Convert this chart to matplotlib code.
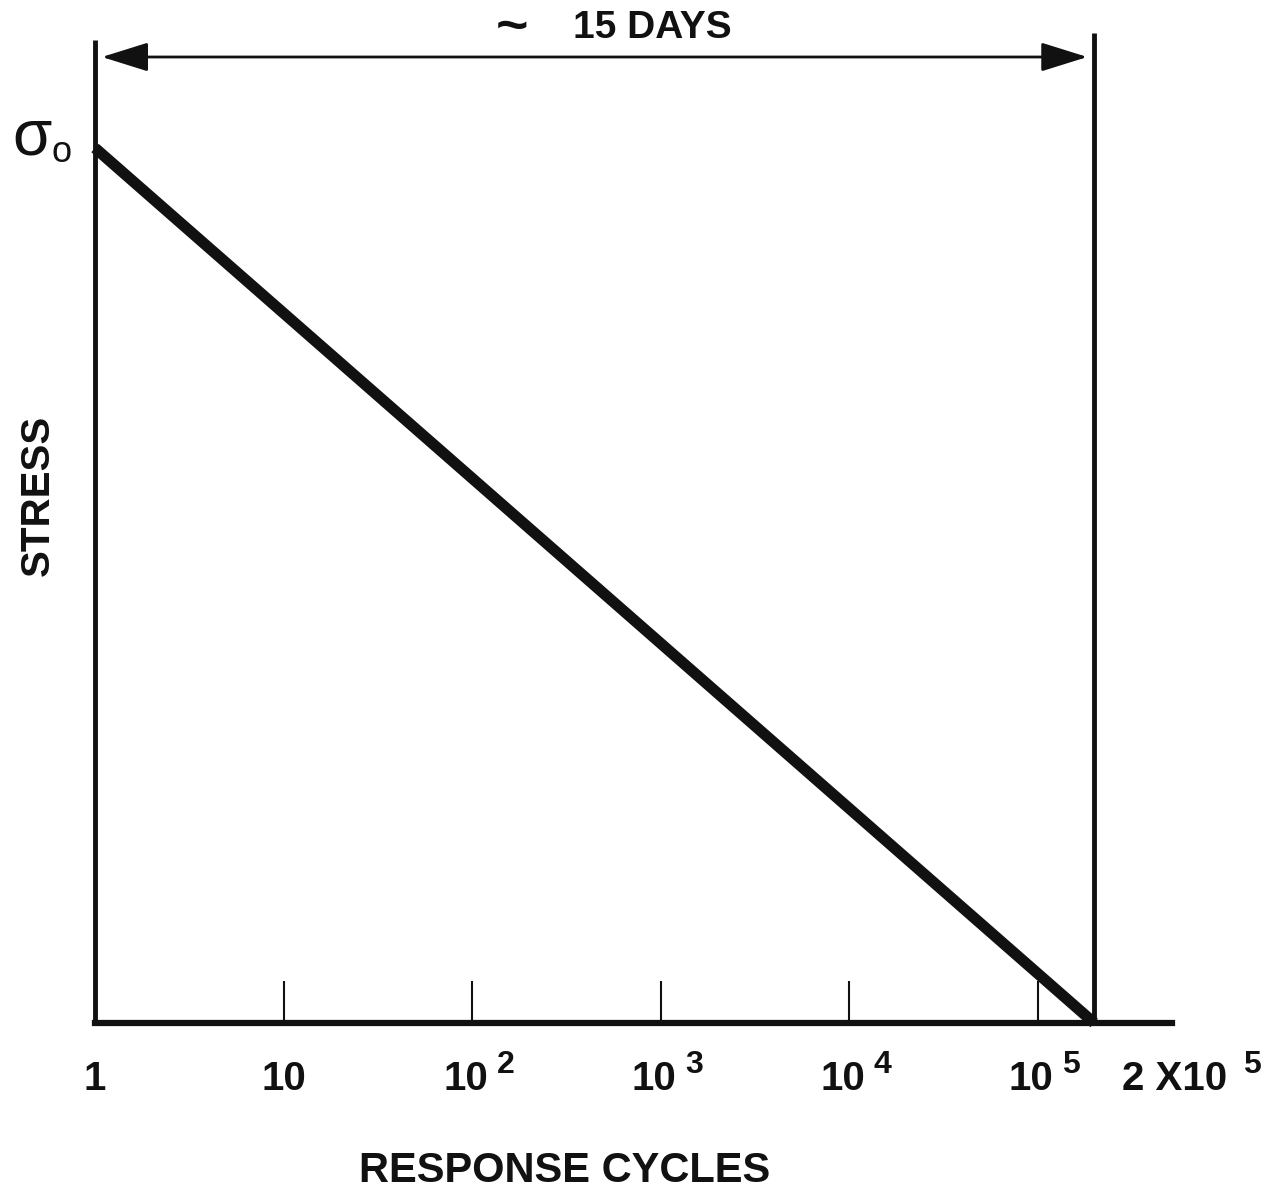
import matplotlib
matplotlib.use("Agg")
import matplotlib.pyplot as plt

plt.rcParams["font.family"] = ["Liberation Sans", "DejaVu Sans"]
plt.rcParams["font.weight"] = "bold"

# S-N style curve: stress falls from sigma_0 at 1 cycle to zero at 2x10^5 cycles
cycles = [1, 2e5]
stress = [1.0, 0.0]

tick_values = [1, 10, 1e2, 1e3, 1e4, 1e5]
tick_bases = ["1", "10", "10", "10", "10", "10"]
tick_exps = ["", "", "2", "3", "4", "5"]
end_cycles = 2e5
end_base, end_exp = "2 X10", "5"
span_label = "15 DAYS"

INK = "#111111"
W, H = 1286, 1190
fig = plt.figure(figsize=(W / 100, H / 100), dpi=100)
x0, x1, y0, y1 = 95, 1172, 1023, 33
ax = fig.add_axes([x0 / W, (H - y0) / H, (x1 - x0) / W, (y0 - y1) / H])

px_per_decade = 188.5
ax.set_xscale("log")
ax.set_xlim(1, 10 ** ((x1 - x0) / px_per_decade))
ax.set_ylim(0, (y0 - y1) / (y0 - 148))

for side in ["top", "right", "left"]:
    ax.spines[side].set_visible(False)
ax.spines["bottom"].set_linewidth(4.5)
ax.spines["bottom"].set_color(INK)
ax.set_yticks([])

# ticks drawn inward, labels placed by hand on a common baseline
ax.set_xticks(tick_values[1:])
ax.xaxis.set_minor_locator(matplotlib.ticker.NullLocator())
ax.tick_params(axis="x", direction="in", length=30, width=1.5, color=INK,
               labelbottom=False)
base_dy = -(1090 - y0) * 0.72
exp_dy = -(1073 - y0) * 0.72
for v, b, e in zip(tick_values, tick_bases, tick_exps):
    shift = -4.5 if e else 0
    ax.annotate(b, xy=(v, 0), xycoords=("data", "axes fraction"),
                xytext=(shift, base_dy), textcoords="offset points",
                ha="center", va="baseline", fontsize=29, color=INK,
                annotation_clip=False)
    if e:
        ax.annotate(e, xy=(v, 0), xycoords=("data", "axes fraction"),
                    xytext=(18, exp_dy), textcoords="offset points",
                    ha="left", va="baseline", fontsize=23, color=INK,
                    annotation_clip=False)
ax.annotate(end_base, xy=(end_cycles, 0), xycoords=("data", "axes fraction"),
            xytext=(20, base_dy), textcoords="offset points", ha="left",
            va="baseline", fontsize=29, color=INK, annotation_clip=False)
ax.annotate(end_exp, xy=(end_cycles, 0), xycoords=("data", "axes fraction"),
            xytext=(107, exp_dy), textcoords="offset points", ha="left",
            va="baseline", fontsize=23, color=INK, annotation_clip=False)

# frame lines at the start and end of the span
ymax = ax.get_ylim()[1]
ax.plot([1, 1], [0, ymax * 0.993], color=INK, lw=3.5, clip_on=False,
        solid_capstyle="butt")
ax.plot([end_cycles, end_cycles], [0, ymax], color=INK, lw=3.5,
        clip_on=False, solid_capstyle="butt")

# the stress line
ax.plot(cycles, stress, color=INK, lw=8, clip_on=False,
        solid_capstyle="butt")

# span arrow
arrow_y = (y0 - 57) / (y0 - 148)
ax.annotate("", xy=(1, arrow_y), xytext=(end_cycles, arrow_y),
            arrowprops=dict(arrowstyle="<|-|>,head_length=0.8,head_width=0.25",
                            mutation_scale=36, lw=2, color=INK,
                            shrinkA=5, shrinkB=5),
            annotation_clip=False)
ax.text((652 - x0) / (x1 - x0), (y0 - 38) / (y0 - y1), span_label,
        transform=ax.transAxes, ha="center", va="baseline", fontsize=28,
        color=INK)
ax.text((512 - x0) / (x1 - x0), (y0 - 29) / (y0 - y1), "~",
        transform=ax.transAxes, ha="center", va="center", fontsize=40,
        color=INK)

# sigma_0 marker
ax.annotate("σ", xy=(1, 1.0), xytext=(-31, -5), textcoords="offset points",
            ha="right", va="baseline", fontsize=46, fontweight="normal",
            color=INK, annotation_clip=False)
ax.annotate("o", xy=(1, 1.0), xytext=(-17, -10), textcoords="offset points",
            ha="right", va="baseline", fontsize=26, fontweight="normal",
            color=INK, annotation_clip=False)

ax.set_xlabel("RESPONSE CYCLES", fontsize=30, fontweight="bold", color=INK)
ax.xaxis.set_label_coords((565 - x0) / (x1 - x0), (y0 - 1151) / (y0 - y1))
ax.set_ylabel("STRESS", fontsize=29, fontweight="bold", color=INK)
ax.yaxis.set_label_coords((57 - x0) / (x1 - x0), (y0 - 495) / (y0 - y1))

fig.savefig("out.png", dpi=100)
